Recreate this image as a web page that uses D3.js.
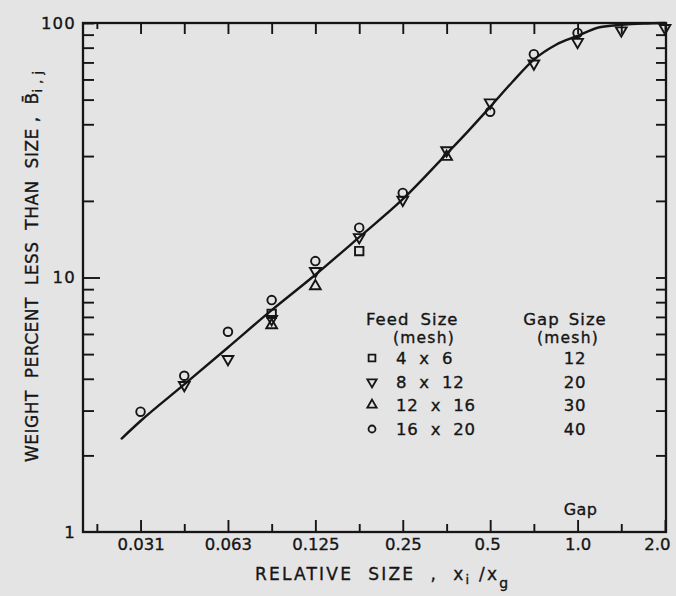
<!DOCTYPE html>
<html><head><meta charset="utf-8">
<script src="https://cdn.jsdelivr.net/npm/d3@7"></script>
<style>
html,body{margin:0;padding:0;background:#e4e4e4;}
svg{display:block;}
text{font-family:"DejaVu Sans",sans-serif;fill:#151515;stroke:#151515;stroke-width:0.35px;}
</style></head>
<body><svg id="c" width="676" height="596"></svg>
<script>
// ---------- data ----------
const sizes = [0.03125, 0.0442, 0.0625, 0.0884, 0.125, 0.177, 0.25, 0.354, 0.5, 0.707, 1.0, 1.414, 2.0];
// Feed 4x6 (squares)
const feed4x6 = [null, null, null, 7.2, null, 12.7, null, null, null, null, null, null, null];
// Feed 8x12 (down triangles)
const feed8x12 = [null, 3.78, 4.78, 6.86, 10.6, 14.4, 20.2, 31.6, 48.7, 69.3, 84.2, 93.5, 95.5];
// Feed 12x16 (up triangles)
const feed12x16 = [null, null, null, 6.5, 9.25, null, null, 29.8, null, null, null, null, null];
// Feed 16x20 (circles)
const feed16x20 = [2.97, 4.11, 6.12, 8.15, 11.6, 15.7, 21.5, null, 44.8, 75.4, 91.4, null, null];
// fitted curve
const curveX = [0.0269, 0.03125, 0.0442, 0.0625, 0.0884, 0.125, 0.177, 0.25, 0.354, 0.42, 0.5, 0.595, 0.707, 0.84, 1.0, 1.19, 1.414, 1.68, 2.0];
const curveY = [2.33, 2.73, 3.8, 5.31, 7.44, 10.25, 14.4, 20.3, 30.6, 37.6, 46.8, 58.5, 71.8, 82, 89, 96.2, 98.3, 99.5, 100];
// legend
const feedLabels = ["4 x 6", "8 x 12", "12 x 16", "16 x 20"];
const gapLabels = ["12", "20", "30", "40"];
// ticks
const xTicksMajor = [0.03125, 0.0625, 0.125, 0.25, 0.5, 1.0, 2.0];
const xTickLabels = ["0.031", "0.063", "0.125", "0.25", "0.5", "1.0", "2.0"];
const xTicksMinor = [0.0221, 0.0442, 0.0884, 0.177, 0.354, 0.707, 1.414];
const yTicksMinor = [2,3,4,5,6,7,8,9,20,30,40,50,60,70,80,90];
const yTicksMajor = [10];
const yTickLabels = [1, 10, 100];

// ---------- layout ----------
const svg = d3.select("#c");
const L = 83, R = 666, T = 23, B = 532;
const x = d3.scaleLog().domain([0.0198, 2.016]).range([L, R]);
const y = d3.scaleLog().domain([1, 100]).range([B, T]);
const ink = "#151515";

function styleAxis(g){
  g.select(".domain").remove();
  g.selectAll(".tick line").attr("stroke", ink).attr("stroke-width", 1.9);
  g.selectAll(".tick text").attr("font-family", "DejaVu Sans").attr("fill", ink);
}

// bottom axis
svg.append("g").attr("transform", `translate(0,${B})`)
  .call(d3.axisBottom(x).tickValues(xTicksMajor).tickSize(-12).tickPadding(6)
    .tickFormat((d,i)=>xTickLabels[i]))
  .call(styleAxis)
  .call(g=>g.selectAll(".tick text").attr("font-size", 16.5)
    .attr("dx", (d,i)=> i === xTicksMajor.length-1 ? -8 : (i===4 ? -3 : 0)));
svg.append("g").attr("transform", `translate(0,${B})`)
  .call(d3.axisBottom(x).tickValues(xTicksMinor).tickSize(-8).tickFormat(""))
  .call(styleAxis);
// top axis
svg.append("g").attr("transform", `translate(0,${T})`)
  .call(d3.axisTop(x).tickValues(xTicksMajor.concat(xTicksMinor.slice(1))).tickSize(-11).tickFormat(""))
  .call(styleAxis);
svg.append("g").attr("transform", `translate(0,${T})`)
  .call(d3.axisTop(x).tickValues([xTicksMinor[0]]).tickSize(-6).tickFormat(""))
  .call(styleAxis);
// left axis
svg.append("g").attr("transform", `translate(${L},0)`)
  .call(d3.axisLeft(y).tickValues(yTicksMinor.concat([100])).tickSize(-11).tickFormat(""))
  .call(styleAxis);
svg.append("g").attr("transform", `translate(${L},0)`)
  .call(d3.axisLeft(y).tickValues(yTicksMajor).tickSize(-17).tickFormat(""))
  .call(styleAxis);
svg.append("g").attr("transform", `translate(${L},0)`)
  .call(d3.axisLeft(y).tickValues(yTickLabels).tickSize(0).tickPadding(7).tickFormat(d3.format("d")))
  .call(styleAxis)
  .call(g=>g.selectAll(".tick text").attr("font-size", 16.5).attr("letter-spacing", 1.2));
// right axis
svg.append("g").attr("transform", `translate(${R},0)`)
  .call(d3.axisRight(y).tickValues(yTicksMinor.concat(yTicksMajor)).tickSize(-10).tickFormat(""))
  .call(styleAxis);

// frame
svg.append("rect").attr("x", L).attr("y", T).attr("width", R-L).attr("height", B-T)
  .attr("fill", "none").attr("stroke", ink).attr("stroke-width", 2.3);

// curve
const line = d3.line().x(d=>x(d[0])).y(d=>y(d[1])).curve(d3.curveMonotoneX);
svg.append("path").datum(curveX.map((v,i)=>[v, curveY[i]]))
  .attr("d", line).attr("fill", "none").attr("stroke", ink).attr("stroke-width", 2.4)
  .attr("stroke-linecap", "round");

// markers
const series = [
  {vals: feed4x6, type: d3.symbolSquare, size: 70, rot: 0},
  {vals: feed8x12, type: d3.symbolTriangle, size: 50, rot: 180},
  {vals: feed12x16, type: d3.symbolTriangle, size: 50, rot: 0},
  {vals: feed16x20, type: d3.symbolCircle, size: 58, rot: 0}
];
series.forEach(s=>{
  const pts = sizes.map((v,i)=>[v, s.vals[i]]).filter(p=>p[1] != null);
  svg.append("g").selectAll("path").data(pts).join("path")
    .attr("d", d3.symbol().type(s.type).size(s.size)())
    .attr("transform", d=>`translate(${x(d[0])},${y(d[1])}) rotate(${s.rot})`)
    .attr("fill", "none").attr("stroke", ink).attr("stroke-width", 1.9);
});

// legend
const lg = svg.append("g");
lg.append("text").attr("x", 366).attr("y", 325).attr("font-size", 16.5).attr("letter-spacing", 1).attr("word-spacing", 5).text("Feed Size");
lg.append("text").attr("x", 424).attr("y", 343).attr("font-size", 15.5).attr("letter-spacing", 1.2).attr("text-anchor", "middle").text("(mesh)");
lg.append("text").attr("x", 565).attr("y", 325).attr("font-size", 16.5).attr("text-anchor", "middle").attr("letter-spacing", 1).attr("word-spacing", 3).text("Gap Size");
lg.append("text").attr("x", 568).attr("y", 343).attr("font-size", 15.5).attr("letter-spacing", 1.2).attr("text-anchor", "middle").text("(mesh)");
const rowY = [358, 382, 405, 429];
const legSym = [
  {type: d3.symbolSquare, size: 46, rot: 0},
  {type: d3.symbolTriangle, size: 38, rot: 180},
  {type: d3.symbolTriangle, size: 38, rot: 0},
  {type: d3.symbolCircle, size: 38, rot: 0}
];
legSym.forEach((s,i)=>{
  lg.append("path").attr("d", d3.symbol().type(s.type).size(s.size)())
    .attr("transform", `translate(372,${rowY[i]}) rotate(${s.rot})`)
    .attr("fill", "none").attr("stroke", ink).attr("stroke-width", 1.8);
  lg.append("text").attr("x", 396).attr("y", rowY[i]+6).attr("font-size", 16.5)
    .attr("letter-spacing", 0.8).attr("word-spacing", 6).text(feedLabels[i]);
  lg.append("text").attr("x", 575).attr("y", rowY[i]+6).attr("font-size", 16.5)
    .attr("letter-spacing", 0.8).attr("text-anchor", "middle").text(gapLabels[i]);
});

// "Gap" marker label
svg.append("text").attr("x", x(1.0)+3).attr("y", 515).attr("font-size", 16)
  .attr("letter-spacing", 0.5).attr("text-anchor", "middle").text("Gap");

// x title
const xt = svg.append("text").attr("x", 255).attr("y", 580).attr("font-size", 17)
  .attr("letter-spacing", 2.2).style("white-space", "pre");
xt.append("tspan").text("RELATIVE  SIZE  ,  x");
xt.append("tspan").attr("font-size", 13).attr("dy", 4).text("i");
xt.append("tspan").attr("dy", -4).text(" /x");
xt.append("tspan").attr("font-size", 14).attr("dy", 8).text("g");

// y title
const yt = svg.append("text").attr("transform", "translate(38,462) rotate(-90)")
  .attr("font-size", 17).attr("letter-spacing", 0.5).style("white-space", "pre");
yt.append("tspan").text("WEIGHT  PERCENT  LESS  THAN  SIZE ,  B\u0304");
yt.append("tspan").attr("font-size", 13).attr("dy", 4).text("i , j");
</script></body></html>
